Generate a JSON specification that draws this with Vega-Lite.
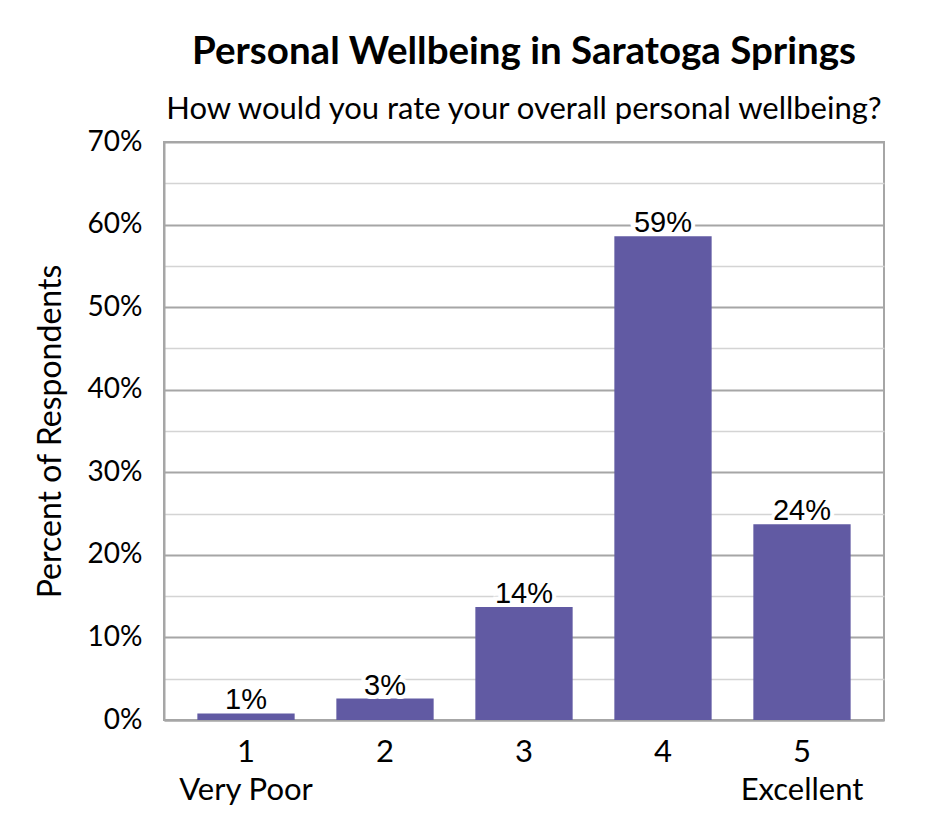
{
  "$schema": "https://vega.github.io/schema/vega-lite/v6.json",
  "width": 720,
  "height": 578,
  "autosize": {"type": "none"},
  "padding": {"left": 164, "top": 142, "right": 61, "bottom": 120},
  "background": "white",
  "title": {
    "text": "Personal Wellbeing in Saratoga Springs",
    "subtitle": "How would you rate your overall personal wellbeing?",
    "anchor": "middle",
    "font": "Lato",
    "fontSize": 38.5,
    "fontWeight": "bold",
    "color": "black",
    "subtitleFont": "Lato",
    "subtitleFontSize": 31,
    "subtitleColor": "black",
    "subtitlePadding": 23,
    "offset": 2
  },
  "config": {
    "view": {"stroke": "#a6a6a6", "strokeWidth": 2},
    "axis": {
      "labelFont": "Lato",
      "titleFont": "Lato",
      "labelColor": "black",
      "titleColor": "black",
      "labelFontSize": 28,
      "titleFontSize": 32,
      "titleFontWeight": "normal",
      "domainColor": "#a6a6a6",
      "domainWidth": 2,
      "ticks": false
    }
  },
  "data": {
    "values": [
      {"rating": "1", "pct": 0.008},
      {"rating": "2", "pct": 0.026},
      {"rating": "3", "pct": 0.137},
      {"rating": "4", "pct": 0.586},
      {"rating": "5", "pct": 0.237}
    ]
  },
  "encoding": {
    "x": {
      "field": "rating",
      "type": "nominal",
      "sort": null,
      "scale": {"paddingInner": 0.3, "paddingOuter": 0.24},
      "axis": {
        "title": null,
        "labelAngle": 0,
        "labelFontSize": 31,
        "labelPadding": 17,
        "labelLineHeight": 38,
        "labelExpr": "datum.value == '1' ? ['1', 'Very Poor'] : datum.value == '5' ? ['5', 'Excellent'] : datum.value"
      }
    },
    "y": {
      "field": "pct",
      "type": "quantitative",
      "scale": {"domain": [0, 0.7], "nice": false},
      "axis": {
        "title": "Percent of Respondents",
        "titlePadding": 20,
        "values": [0, 0.05, 0.1, 0.15, 0.2, 0.25, 0.3, 0.35, 0.4, 0.45, 0.5, 0.55, 0.6, 0.65, 0.7],
        "labelExpr": "round(datum.value * 100) % 10 == 0 ? format(datum.value, '.0%') : ''",
        "labelPadding": 22,
        "grid": true,
        "gridColor": {"condition": {"test": "round(datum.value * 100) % 10 == 0", "value": "#a6a6a6"}, "value": "#d4d4d4"},
        "gridWidth": {"condition": {"test": "round(datum.value * 100) % 10 == 0", "value": 2}, "value": 1.3}
      }
    }
  },
  "layer": [
    {"mark": {"type": "bar", "color": "#615aa3"}},
    {
      "mark": {"type": "text", "baseline": "alphabetic", "dy": -4, "font": "Liberation Sans", "fontSize": 29, "color": "white", "stroke": "white", "strokeWidth": 8},
      "encoding": {"text": {"field": "pct", "type": "quantitative", "format": ".0%"}}
    },
    {
      "mark": {"type": "text", "baseline": "alphabetic", "dy": -4, "font": "Liberation Sans", "fontSize": 29, "color": "black"},
      "encoding": {"text": {"field": "pct", "type": "quantitative", "format": ".0%"}}
    }
  ]
}
